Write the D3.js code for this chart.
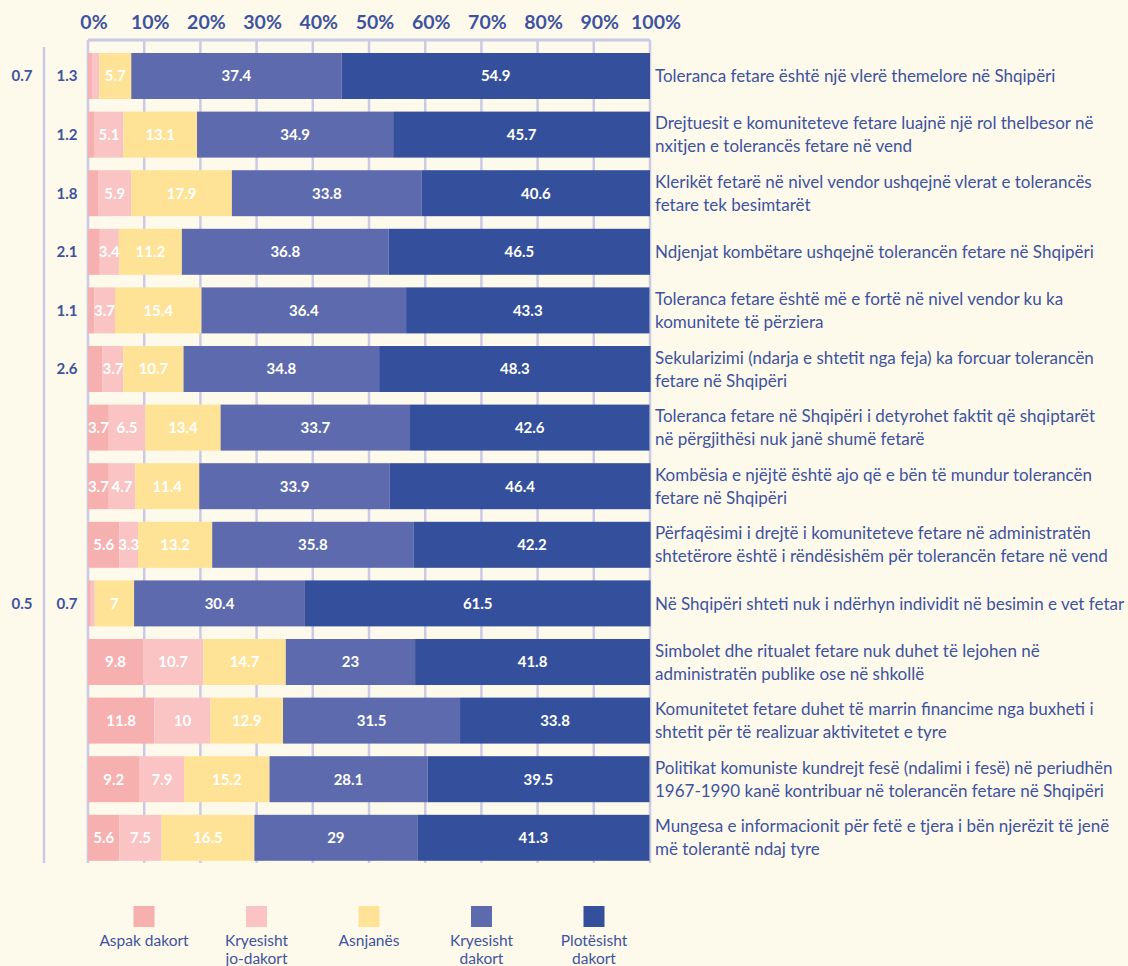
<!DOCTYPE html>
<html>
<head>
<meta charset="utf-8">
<script src="https://cdn.jsdelivr.net/npm/d3@7"></script>
<style>
  html, body { margin: 0; padding: 0; background: #fefaeb; }
  svg { display: block; font-family: Lato, "Noto Sans", sans-serif; }
  .tick-label { fill: #3d52a0; font-size: 19.5px; font-weight: 700; }
  .side-value { fill: #3d52a0; font-size: 15px; font-weight: 700; }
  .seg-label { fill: #ffffff; font-size: 15px; font-weight: 700; }
  .row-label { fill: #3d52a0; font-size: 17px; }
  .legend-text { fill: #3d52a0; font-size: 15.5px; }
</style>
</head>
<body>
<svg id="chart"></svg>
<script>
// Answer categories (stack order, left to right)
const categories = ['Aspak dakort', 'Kryesisht jo-dakort', 'Asnjanës', 'Kryesisht dakort', 'Plotësisht dakort'];
const legendLines = [['Aspak dakort'], ['Kryesisht', 'jo-dakort'], ['Asnjanës'], ['Kryesisht', 'dakort'], ['Plotësisht', 'dakort']];
const colors = ['#f7b0b0', '#f9c4c3', '#fee397', '#5d6bae', '#344f9c'];

// Statements, already split into the lines shown on the right
const statements = [
  ['Toleranca fetare është një vlerë themelore në Shqipëri'],
  ['Drejtuesit e komuniteteve fetare luajnë një rol thelbesor në', 'nxitjen e tolerancës fetare në vend'],
  ['Klerikët fetarë në nivel vendor ushqejnë vlerat e tolerancës', 'fetare tek besimtarët'],
  ['Ndjenjat kombëtare ushqejnë tolerancën fetare në Shqipëri'],
  ['Toleranca fetare është më e fortë në nivel vendor ku ka', 'komunitete të përziera'],
  ['Sekularizimi (ndarja e shtetit nga feja) ka forcuar tolerancën', 'fetare në Shqipëri'],
  ['Toleranca fetare në Shqipëri i detyrohet faktit që shqiptarët', 'në përgjithësi nuk janë shumë fetarë'],
  ['Kombësia e njëjtë është ajo që e bën të mundur tolerancën', 'fetare në Shqipëri'],
  ['Përfaqësimi i drejtë i komuniteteve fetare në administratën', 'shtetërore është i rëndësishëm për tolerancën fetare në vend'],
  ['Në Shqipëri shteti nuk i ndërhyn individit në besimin e vet fetar'],
  ['Simbolet dhe ritualet fetare nuk duhet të lejohen në', 'administratën publike ose në shkollë'],
  ['Komunitetet fetare duhet të marrin financime nga buxheti i', 'shtetit për të realizuar aktivitetet e tyre'],
  ['Politikat komuniste kundrejt fesë (ndalimi i fesë) në periudhën', '1967-1990 kanë kontribuar në tolerancën fetare në Shqipëri'],
  ['Mungesa e informacionit për fetë e tjera i bën njerëzit të jenë', 'më tolerantë ndaj tyre']
];

// Percent values per category, one entry per statement
const aspak      = [0.7, 1.2, 1.8, 2.1, 1.1, 2.6, 3.7, 3.7, 5.6, 0.5, 9.8, 11.8, 9.2, 5.6];
const joDakort   = [1.3, 5.1, 5.9, 3.4, 3.7, 3.7, 6.5, 4.7, 3.3, 0.7, 10.7, 10, 7.9, 7.5];
const asnjanes   = [5.7, 13.1, 17.9, 11.2, 15.4, 10.7, 13.4, 11.4, 13.2, 7, 14.7, 12.9, 15.2, 16.5];
const kDakort    = [37.4, 34.9, 33.8, 36.8, 36.4, 34.8, 33.7, 33.9, 35.8, 30.4, 23, 31.5, 28.1, 29];
const pDakort    = [54.9, 45.7, 40.6, 46.5, 43.3, 48.3, 42.6, 46.4, 42.2, 61.5, 41.8, 33.8, 39.5, 41.3];

const xTicks = [0, 10, 20, 30, 40, 50, 60, 70, 80, 90, 100];

const width = 1128, height = 966;
const svg = d3.select('#chart').attr('width', width).attr('height', height);

const rows = statements.map((s, i) => ({
  i,
  lines: s,
  values: [aspak[i], joDakort[i], asnjanes[i], kDakort[i], pDakort[i]]
}));

const x = d3.scaleLinear().domain([0, 100]).range([88, 650]);
const y = d3.scaleBand()
  .domain(rows.map(d => d.i))
  .range([53, 53 + 14 * 58.6 - 12.6])
  .paddingInner(0.215)
  .paddingOuter(0);

const gridColor = '#cacae6';
const gridTop = 40, gridBottom = 863;

// grid lines
svg.append('g').selectAll('line')
  .data(xTicks)
  .join('line')
  .attr('x1', d => x(d)).attr('x2', d => x(d))
  .attr('y1', gridTop).attr('y2', gridBottom)
  .attr('stroke', gridColor).attr('stroke-width', 2.5);

svg.append('line')
  .attr('x1', x(0)).attr('x2', x(100))
  .attr('y1', gridTop).attr('y2', gridTop)
  .attr('stroke', gridColor).attr('stroke-width', 3);

// left separator between the two outside-value columns
svg.append('line')
  .attr('x1', 44).attr('x2', 44)
  .attr('y1', 47).attr('y2', gridBottom)
  .attr('stroke', gridColor).attr('stroke-width', 2.5);

// top axis labels
svg.append('g').selectAll('text')
  .data(xTicks)
  .join('text')
  .attr('class', 'tick-label')
  .attr('x', d => x(d) + 6)
  .attr('y', 29)
  .attr('text-anchor', 'middle')
  .text(d => d + '%');

// stacked bars
const stack = rows.map(r => {
  let acc = 0;
  return r.values.map((v, k) => {
    const seg = { row: r.i, k, v, x0: acc, x1: acc + v };
    acc += v;
    return seg;
  });
});

const rowG = svg.append('g').selectAll('g')
  .data(stack)
  .join('g');

rowG.selectAll('rect')
  .data(d => d)
  .join('rect')
  .attr('x', d => x(d.x0))
  .attr('width', d => x(d.x1) - x(d.x0))
  .attr('y', d => y(d.row))
  .attr('height', y.bandwidth())
  .attr('fill', d => colors[d.k]);

// labels inside segments (small ones go to the left columns)
rowG.selectAll('text')
  .data(d => d.filter(s => s.v >= 3))
  .join('text')
  .attr('class', 'seg-label')
  .attr('x', d => (x(d.x0) + x(d.x1)) / 2)
  .attr('y', d => y(d.row) + y.bandwidth() / 2)
  .attr('dy', '0.36em')
  .attr('text-anchor', 'middle')
  .text(d => d.v);

// outside values: nearest small segment goes in column next to the bar
const colX = [67, 22];
const outside = [];
stack.forEach(segs => {
  const small = segs.filter(s => s.v < 3).reverse();
  small.forEach((s, j) => outside.push({ ...s, cx: colX[j] }));
});

svg.append('g').selectAll('text')
  .data(outside)
  .join('text')
  .attr('class', 'side-value')
  .attr('x', d => d.cx)
  .attr('y', d => y(d.row) + y.bandwidth() / 2)
  .attr('dy', '0.36em')
  .attr('text-anchor', 'middle')
  .text(d => d.v);

// statement labels on the right
const lab = svg.append('g').selectAll('text')
  .data(rows)
  .join('text')
  .attr('class', 'row-label')
  .attr('x', 655)
  .attr('y', d => y(d.i) + y.bandwidth() / 2 - (d.lines.length - 1) * 11.5)
  .attr('dy', '0.36em');

lab.selectAll('tspan')
  .data(d => d.lines)
  .join('tspan')
  .attr('x', 655)
  .attr('dy', (d, j) => j === 0 ? '0.36em' : 23)
  .text(d => d);

// legend
const legendCx = d3.scaleLinear().domain([0, 4]).range([144, 594]);
const leg = svg.append('g').selectAll('g')
  .data(categories)
  .join('g')
  .attr('transform', (d, i) => `translate(${legendCx(i)},0)`);

leg.append('rect')
  .attr('x', -10.5).attr('y', 906)
  .attr('width', 21).attr('height', 21)
  .attr('fill', (d, i) => colors[i]);

leg.append('text')
  .attr('class', 'legend-text')
  .attr('text-anchor', 'middle')
  .selectAll('tspan')
  .data((d, i) => legendLines[i])
  .join('tspan')
  .attr('x', 0)
  .attr('y', (d, j) => 946 + j * 18)
  .text(d => d);
</script>
</body>
</html>
